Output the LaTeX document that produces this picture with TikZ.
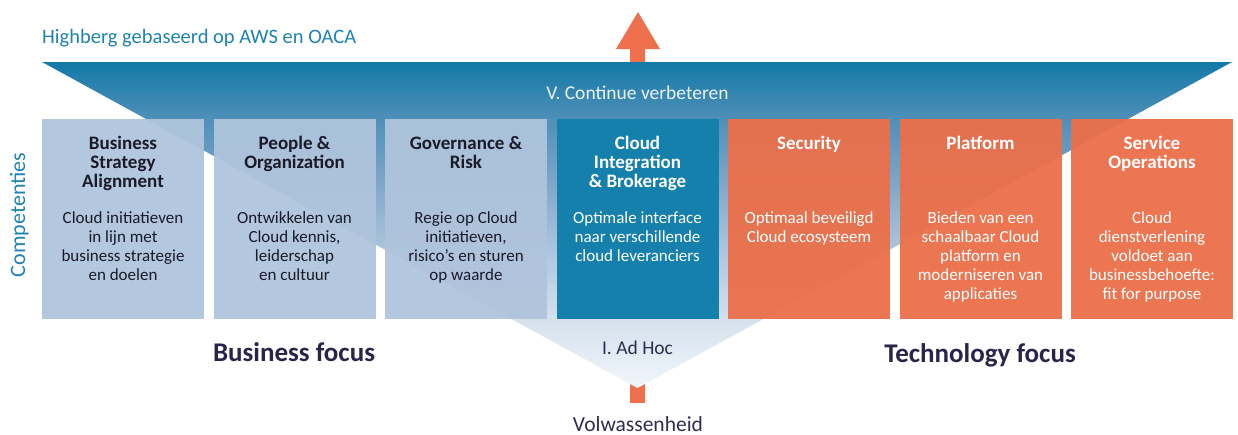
\documentclass[tikz,border=0pt]{standalone}
\usepackage{fontspec}
\setmainfont{Carlito}
\definecolor{tealtxt}{RGB}{31,131,176}
\definecolor{navy}{RGB}{40,36,74}
\definecolor{darktxt}{RGB}{26,26,40}
\definecolor{adhoc}{RGB}{46,45,79}
\definecolor{lightbox}{RGB}{175,196,220}
\definecolor{tealbox}{RGB}{21,128,172}
\definecolor{orangebox}{RGB}{235,111,73}
\definecolor{arroworange}{RGB}{238,112,76}
\definecolor{offwhite}{RGB}{236,243,248}
\definecolor{s0}{RGB}{241,246,251}
\definecolor{s1}{RGB}{213,225,237}
\definecolor{s2}{RGB}{172,197,221}
\definecolor{s3}{RGB}{125,165,200}
\definecolor{s4}{RGB}{80,144,185}
\definecolor{s5}{RGB}{19,121,167}
\pgfdeclareverticalshading{trishade}{100bp}{color(0bp)=(s0); color(25bp)=(s0); color(35.4bp)=(s1); color(46.2bp)=(s2); color(56.9bp)=(s3); color(66.1bp)=(s4); color(75bp)=(s5); color(100bp)=(s5)}
\tikzset{
  box/.style={rectangle, minimum width=162pt, minimum height=200pt, inner sep=0pt, draw=none},
  lbox/.style={box, fill=lightbox, fill opacity=0.95},
  tbox/.style={box, fill=tealbox},
  obox/.style={box, fill=orangebox, fill opacity=0.95},
  ttl/.style={anchor=north, align=center, inner sep=0pt, font=\fontsize{19}{19}\selectfont\bfseries, execute at begin node=\strut},
  bdy/.style={anchor=north, align=center, inner sep=0pt, font=\fontsize{17}{19}\selectfont, execute at begin node=\strut},
  darkt/.style={text=darktxt},
  whitet/.style={text=white},
}
\begin{document}
\begin{tikzpicture}[x=1pt,y=-1pt]
\useasboundingbox (0,0) rectangle (1238,434);
% arrows (behind triangle)
\fill[arroworange] (630,63) -- (630,49) -- (616,49) -- (638,12) -- (660,49) -- (645,49) -- (645,63) -- cycle;
\fill[arroworange] (630,383) rectangle (645,403);
% big inverted triangle
\shade[shading=trishade] (42,62) -- (1232,62) -- (637.5,388) -- cycle;
% boxes
\node[lbox] (b1) at (123,219) {};
\node[lbox] (b2) at (294.5,219) {};
\node[lbox] (b3) at (466,219) {};
\node[tbox] (b4) at (637.5,219) {};
\node[obox] (b5) at (809,219) {};
\node[obox] (b6) at (980.5,219) {};
\node[obox] (b7) at (1152,219) {};
% titles
\node[ttl, darkt] (t1) at (123,136) {Business\\Strategy\\Alignment};
\node[ttl, darkt] (t2) at (294.5,136) {People \&\\Organization};
\node[ttl, darkt] (t3) at (466,136) {Governance \&\\Risk};
\node[ttl, whitet] (t4) at (637.5,136) {Cloud\\Integration\\\& Brokerage};
\node[ttl, whitet] (t5) at (809,136) {Security};
\node[ttl, whitet] (t6) at (980.5,136) {Platform};
\node[ttl, whitet] (t7) at (1152,136) {Service\\Operations};
% bodies
\node[bdy, darkt] (d1) at (123,211) {Cloud initiatieven\\in lijn met\\business strategie\\en doelen};
\node[bdy, darkt] (d2) at (294.5,211) {Ontwikkelen van\\Cloud kennis,\\leiderschap\\en cultuur};
\node[bdy, darkt] (d3) at (466,211) {Regie op Cloud\\initiatieven,\\risico’s en sturen\\op waarde};
\node[bdy, whitet] (d4) at (637.5,211) {Optimale interface\\naar verschillende\\cloud leveranciers};
\node[bdy, whitet] (d5) at (809,211) {Optimaal beveiligd\\Cloud ecosysteem};
\node[bdy, whitet] (d6) at (980.5,211) {Bieden van een\\schaalbaar Cloud\\platform en\\moderniseren van\\applicaties};
\node[bdy, whitet] (d7) at (1152,211) {Cloud\\dienstverlening\\voldoet aan\\businessbehoefte:\\fit for purpose};
% labels
\node[anchor=base west, inner sep=0pt, text=tealtxt, font=\fontsize{20.5}{24}\selectfont] (hdr) at (42,43) {Highberg gebaseerd op AWS en OACA};
\node[anchor=base, inner sep=0pt, text=offwhite, font=\fontsize{19.5}{24}\selectfont] (cv) at (637.5,99) {V. Continue verbeteren};
\node[anchor=base, inner sep=0pt, text=adhoc, font=\fontsize{19.5}{24}\selectfont] (ah) at (637.5,354) {I. Ad Hoc};
\node[anchor=base, inner sep=0pt, text=adhoc, font=\fontsize{21.5}{24}\selectfont] (vw) at (638,431) {Volwassenheid};
\node[anchor=base, inner sep=0pt, text=navy, font=\fontsize{27}{30}\selectfont\bfseries] (bf) at (294,361) {Business focus};
\node[anchor=base, inner sep=0pt, text=navy, font=\fontsize{27}{30}\selectfont\bfseries] (tf) at (980,362) {Technology focus};
\node[anchor=base, rotate=90, inner sep=0pt, text=tealtxt, font=\fontsize{22}{26}\selectfont] (comp) at (25,215) {Competenties};
\end{tikzpicture}
\end{document}
